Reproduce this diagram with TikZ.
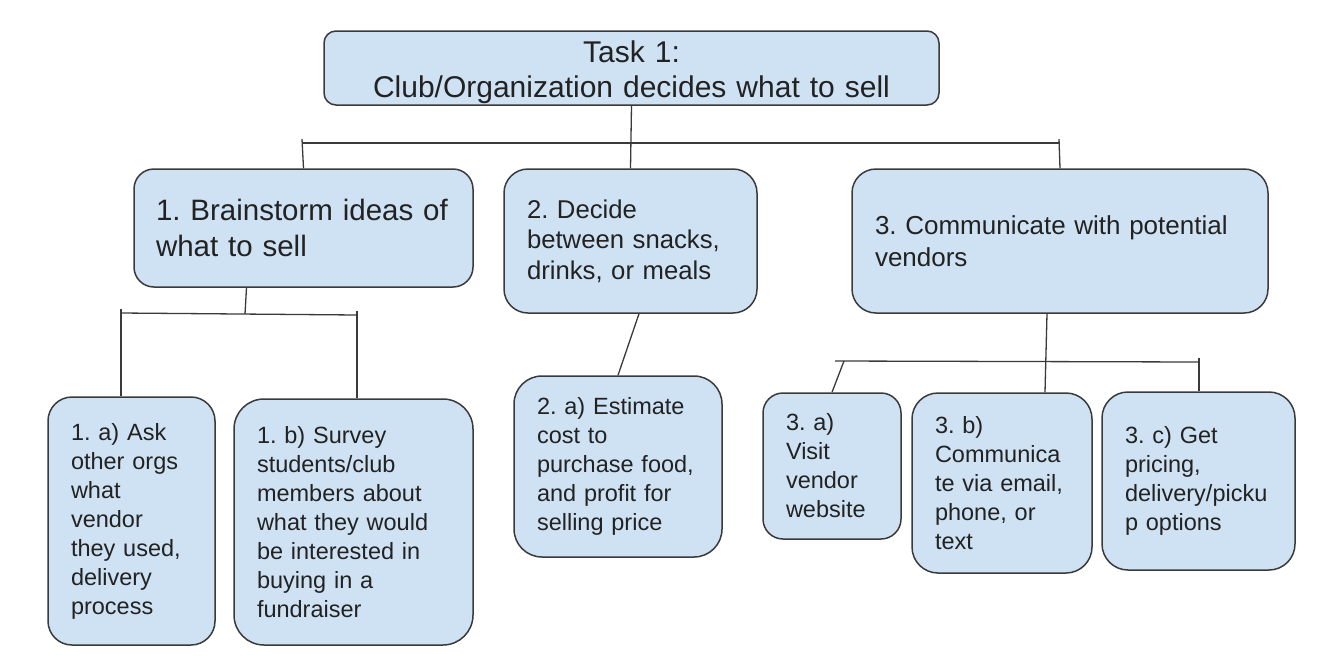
\documentclass[tikz,border=0pt]{standalone}
\usepackage{fontspec}
\setmainfont{Liberation Sans}
\frenchspacing
\definecolor{boxfill}{HTML}{CFE2F3}
\definecolor{boxline}{HTML}{3A3A3A}
\definecolor{inkgray}{HTML}{222222}
\tikzset{
%Define style for boxes
    card/.style={
           rectangle,
           draw=boxline, line width=1.5pt,
           fill=boxfill,
           text=inkgray,
           inner xsep=23pt,
           inner ysep=0pt,
           align=left},
    headcard/.style={
           card,
           align=center,
           rounded corners=12pt,
           font=\fontsize{30}{35}\selectfont},
    leafcard/.style={
           card,
           font=\fontsize{23.5}{29}\selectfont},
% Define line style
    tie/.style={
           -,
           draw=boxline,
           line width=1.3pt}
}
\begin{document}
\begin{tikzpicture}[x=1pt, y=-1pt]
 \useasboundingbox (0,0) rectangle (1334,670);
 \node[headcard, minimum width=615pt, minimum height=74pt, text width=569pt] (task) at (631.5,68) {\rule{0pt}{30pt}Task 1:\\Club/Organization decides what to sell};
 \node[card, rounded corners=20pt, inner xsep=22pt, minimum width=339pt, minimum height=118pt, text width=295pt, font=\fontsize{29.5}{36}\selectfont] (brainstorm) at (303.5,228) {1. Brainstorm ideas of\\what to sell};
 \node[card, rounded corners=24pt, minimum width=253pt, minimum height=144pt, text width=207pt, font=\fontsize{25.7}{30.5}\selectfont] (decide) at (630.5,241) {2. Decide\\between snacks,\\drinks, or meals};
 \node[card, rounded corners=24pt, minimum width=416pt, minimum height=144pt, text width=370pt, font=\fontsize{26}{32}\selectfont] (vendors) at (1060,241) {3. Communicate with potential\\vendors};
 \node[leafcard, rounded corners=24pt, minimum width=167pt, minimum height=248pt, text width=121pt] (ask) at (131.5,521) {1. a) Ask\\other orgs\\what\\vendor\\they used,\\delivery\\process};
 \node[leafcard, rounded corners=30pt, minimum width=239pt, minimum height=246pt, text width=193pt] (survey) at (353.5,522) {1. b) Survey\\students/club\\members about\\what they would\\be interested in\\buying in a\\fundraiser};
 \node[leafcard, rounded corners=28pt, minimum width=208pt, minimum height=181pt, text width=162pt] (estimate) at (618,466.5) {2. a) Estimate\\cost to\\purchase food,\\and profit for\\selling price};
 \node[leafcard, rounded corners=20pt, minimum width=138pt, minimum height=146pt, text width=92pt] (visit) at (832,466) {3. a)\\Visit\\vendor\\website};
 \node[leafcard, rounded corners=26pt, minimum width=180pt, minimum height=180pt, text width=134pt] (contact) at (1002,483) {3. b)\\Communica\\te via email,\\phone, or\\text};
 \node[leafcard, rounded corners=26pt, minimum width=193pt, minimum height=178pt, text width=147pt] (pricing) at (1198.5,481) {3. c) Get\\pricing,\\delivery/picku\\p options};
 % top level lines
 \coordinate (busL) at (302,143);
 \coordinate (busR) at (1059,143);
 \draw[tie] (busL) -- (busR);
 \draw[tie] (task.south) -- (decide.north);
 \draw[tie] (brainstorm.north) -- ([yshift=4pt]busL);
 \draw[tie] (vendors.north) -- ([yshift=4pt]busR);
 % under box 1
 \coordinate (subL) at (121,313);
 \coordinate (subR) at (357,315);
 \coordinate (subM) at (245,314);
 \draw[tie] (subL) -- (subR);
 \draw[tie] ([xshift=-57pt]brainstorm.south) -- (subM);
 \draw[tie] ([yshift=4pt]subL) -- (subL |- ask.north);
 \draw[tie] ([yshift=4pt]subR) -- (subR |- survey.north);
 % under box 2
 \draw[tie] ([xshift=8.5pt]decide.south) -- (estimate.north);
 % under box 3
 \coordinate (venL) at (835,361);
 \coordinate (venR) at (1199,362);
 \coordinate (venA) at (844,361);
 \draw[tie] (venL) -- (venR);
 \draw[tie] (venA) -- (visit.north);
 \draw[tie] ([xshift=-13pt]vendors.south) -- ([xshift=43pt]contact.north);
 \draw[tie] ([yshift=4pt]venR) -- (venR |- pricing.north);
\end{tikzpicture}
\end{document}
